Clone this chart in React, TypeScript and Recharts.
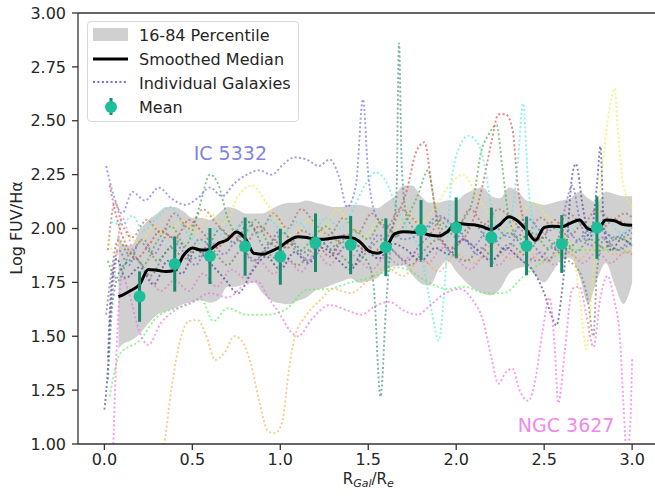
import React from 'react';
import { ComposedChart, Line, Area, Scatter, ErrorBar, XAxis, YAxis, ReferenceLine, ReferenceDot } from 'recharts';

type Pt = [number, number];

const FONT = '"DejaVu Sans", sans-serif';
const MEAN_DOT = '#1dbf9b';
const MEAN_BAR = '#178a6e';
const BAND = '#d0d0d0';

// grid for band + smoothed median
const gridX = [0.08, 0.1, 0.15, 0.2, 0.25, 0.3, 0.35, 0.4, 0.45, 0.5, 0.55, 0.6, 0.65, 0.7, 0.75, 0.8, 0.85, 0.9, 0.95, 1.0,
  1.05, 1.1, 1.15, 1.2, 1.25, 1.3, 1.35, 1.4, 1.45, 1.5, 1.55, 1.6, 1.65, 1.7, 1.75, 1.8, 1.85, 1.9, 1.95, 2.0,
  2.05, 2.1, 2.15, 2.2, 2.25, 2.3, 2.35, 2.4, 2.45, 2.5, 2.55, 2.6, 2.65, 2.7, 2.75, 2.8, 2.85, 2.9, 2.95, 3.0];
const median = [1.684, 1.69, 1.712, 1.74, 1.81, 1.806, 1.8, 1.806, 1.876, 1.91, 1.9, 1.903, 1.932, 1.948, 1.984, 1.955, 1.885, 1.88, 1.895, 1.915,
  1.945, 1.962, 1.958, 1.95, 1.95, 1.956, 1.96, 1.958, 1.94, 1.898, 1.885, 1.91, 1.975, 1.985, 1.983, 1.98, 1.97, 1.965, 1.985, 2.025,
  2.02, 2.017, 2.008, 1.995, 2.02, 2.055, 2.035, 1.993, 1.945, 2.005, 2.01, 2.008, 2.025, 2.04, 1.998, 1.99, 2.04, 2.036, 2.018, 2.015];
const p84 = [1.985, 1.93, 1.92, 1.99, 2.04, 2.07, 2.1, 2.1, 2.08, 2.05, 2.05, 2.04, 2.07, 2.1, 2.09, 2.07, 2.07, 2.07, 2.09, 2.11,
  2.12, 2.12, 2.13, 2.12, 2.11, 2.1, 2.1, 2.11, 2.11, 2.1, 2.095, 2.12, 2.15, 2.2, 2.2, 2.15, 2.12, 2.12, 2.13, 2.13,
  2.16, 2.18, 2.19, 2.15, 2.14, 2.19, 2.17, 2.13, 2.12, 2.11, 2.12, 2.13, 2.14, 2.17, 2.14, 2.12, 2.17, 2.16, 2.15, 2.15];
const p16 = [1.44, 1.46, 1.48, 1.51, 1.56, 1.6, 1.615, 1.63, 1.65, 1.66, 1.668, 1.655, 1.67, 1.73, 1.73, 1.745, 1.75, 1.7, 1.665, 1.653,
  1.648, 1.665, 1.68, 1.712, 1.725, 1.74, 1.755, 1.768, 1.748, 1.755, 1.77, 1.81, 1.826, 1.83, 1.785, 1.745, 1.735, 1.81, 1.85, 1.8,
  1.755, 1.72, 1.7, 1.69, 1.72, 1.79, 1.815, 1.823, 1.78, 1.75, 1.8, 1.86, 1.862, 1.78, 1.65, 1.76, 1.84, 1.74, 1.65, 1.75];

// binned means with 1-sigma
const meanX = [0.2, 0.4, 0.6, 0.8, 1.0, 1.2, 1.4, 1.6, 1.8, 2.0, 2.2, 2.4, 2.6, 2.8];
const meanY = [1.684, 1.835, 1.872, 1.916, 1.869, 1.934, 1.923, 1.913, 1.993, 2.004, 1.959, 1.919, 1.928, 2.004];
const meanErr = [0.117, 0.128, 0.13, 0.135, 0.13, 0.136, 0.135, 0.134, 0.139, 0.14, 0.138, 0.136, 0.134, 0.145];

const ic5332: Pt[] = [[0.01, 2.29], [0.05, 2.16], [0.1, 2.07], [0.16, 2.17], [0.23, 2.13], [0.31, 2.19], [0.38, 2.14], [0.46, 2.11], [0.53, 2.14], [0.6, 2.19], [0.67, 2.15], [0.74, 2.21], [0.81, 2.25], [0.88, 2.27], [0.95, 2.25], [1.02, 2.3], [1.08, 2.33], [1.15, 2.32], [1.22, 2.29], [1.28, 2.32], [1.33, 2.25], [1.38, 2.1], [1.43, 2.2], [1.47, 2.6], [1.5, 2.25], [1.55, 2.05], [1.62, 2.0], [1.7, 1.95], [1.8, 1.98], [1.9, 2.06], [2.0, 2.0], [2.1, 1.92], [2.2, 2.02], [2.3, 1.96], [2.4, 2.05], [2.5, 1.98], [2.6, 2.02], [2.7, 1.94], [2.8, 2.0], [2.9, 1.96], [3.0, 2.0]];
const ngc3627: Pt[] = [[0.05, 0.98], [0.07, 1.45], [0.1, 1.78], [0.14, 1.7], [0.2, 1.52], [0.25, 1.46], [0.32, 1.56], [0.4, 1.62], [0.5, 1.66], [0.6, 1.7], [0.7, 1.68], [0.8, 1.74], [0.87, 1.755], [0.93, 1.68], [1.0, 1.6], [1.06, 1.52], [1.1, 1.5], [1.18, 1.58], [1.28, 1.645], [1.38, 1.62], [1.46, 1.6], [1.54, 1.64], [1.62, 1.66], [1.7, 1.62], [1.78, 1.6], [1.86, 1.65], [1.94, 1.7], [2.02, 1.72], [2.1, 1.66], [2.15, 1.58], [2.2, 1.4], [2.24, 1.28], [2.28, 1.33], [2.32, 1.35], [2.36, 1.25], [2.41, 1.2], [2.45, 1.3], [2.49, 1.52], [2.53, 1.68], [2.56, 1.45], [2.58, 1.19], [2.62, 1.45], [2.66, 1.72], [2.7, 1.73], [2.74, 1.6], [2.78, 1.45], [2.82, 1.68], [2.86, 1.78], [2.9, 1.66], [2.93, 1.5], [2.95, 1.2], [2.97, 0.95], [2.99, 1.1], [3.0, 1.4]];
const galTeal: Pt[] = [[0.02, 1.3], [0.05, 1.68], [0.1, 1.82], [0.18, 1.86], [0.26, 1.78], [0.34, 1.88], [0.42, 1.94], [0.5, 1.86], [0.58, 1.9], [0.66, 2.0], [0.74, 1.93], [0.82, 2.03], [0.9, 1.92], [0.98, 1.86], [1.06, 1.94], [1.14, 1.89], [1.22, 1.95], [1.3, 1.9], [1.38, 1.96], [1.45, 1.88], [1.5, 1.84], [1.53, 1.74], [1.57, 1.22], [1.6, 1.62], [1.63, 1.95], [1.66, 2.15], [1.675, 2.86], [1.69, 2.3], [1.72, 2.05], [1.8, 1.98], [1.9, 2.04], [2.0, 1.96], [2.1, 2.02], [2.2, 1.93], [2.3, 1.98], [2.4, 1.91], [2.5, 1.96], [2.6, 1.89], [2.7, 1.95], [2.8, 2.02], [2.9, 1.95], [3.0, 1.98]];
const galRed: Pt[] = [[0.03, 2.2], [0.07, 2.05], [0.12, 1.93], [0.18, 1.86], [0.25, 1.92], [0.32, 1.99], [0.4, 1.95], [0.48, 2.04], [0.56, 1.98], [0.64, 1.91], [0.72, 1.97], [0.8, 1.93], [0.88, 2.01], [0.96, 1.95], [1.04, 1.91], [1.12, 1.99], [1.2, 1.95], [1.28, 1.87], [1.36, 1.97], [1.44, 1.92], [1.52, 1.89], [1.6, 1.95], [1.66, 2.05], [1.72, 2.18], [1.77, 2.35], [1.82, 2.4], [1.86, 2.2], [1.9, 2.0], [1.96, 1.91], [2.04, 1.95], [2.1, 2.05], [2.15, 2.2], [2.2, 2.4], [2.24, 2.53], [2.28, 2.53], [2.32, 2.46], [2.35, 2.2], [2.4, 2.0], [2.48, 1.95], [2.56, 2.04], [2.64, 1.96], [2.72, 2.02], [2.8, 1.98], [2.9, 2.04], [3.0, 2.0]];
const galGreen: Pt[] = [[0.02, 1.85], [0.08, 1.76], [0.15, 1.89], [0.22, 1.83], [0.3, 1.94], [0.38, 2.01], [0.46, 1.92], [0.54, 2.1], [0.6, 2.25], [0.65, 2.2], [0.7, 2.05], [0.78, 1.96], [0.86, 2.04], [0.94, 1.93], [1.02, 1.98], [1.1, 1.89], [1.18, 1.95], [1.26, 2.01], [1.34, 1.93], [1.42, 1.99], [1.5, 1.95], [1.58, 2.04], [1.66, 1.96], [1.72, 2.05], [1.78, 2.15], [1.84, 2.27], [1.88, 2.1], [1.94, 1.98], [2.02, 2.02], [2.1, 2.15], [2.14, 2.35], [2.18, 2.43], [2.23, 2.48], [2.26, 2.3], [2.3, 2.05], [2.36, 1.95], [2.44, 1.98], [2.52, 1.91], [2.6, 1.96], [2.68, 1.89], [2.76, 1.95], [2.84, 1.91], [2.92, 1.96], [3.0, 1.92]];
const galCyan: Pt[] = [[0.04, 2.03], [0.1, 2.02], [0.16, 2.06], [0.22, 1.99], [0.3, 2.05], [0.38, 2.1], [0.46, 1.99], [0.54, 1.93], [0.62, 2.0], [0.7, 1.95], [0.78, 2.02], [0.86, 1.97], [0.94, 2.04], [1.02, 1.98], [1.1, 2.03], [1.18, 1.97], [1.26, 2.05], [1.34, 2.0], [1.42, 2.1], [1.48, 2.2], [1.54, 2.26], [1.6, 2.22], [1.66, 2.1], [1.72, 2.0], [1.8, 1.88], [1.86, 1.62], [1.9, 1.48], [1.94, 1.8], [1.97, 2.2], [2.02, 2.38], [2.07, 2.43], [2.12, 2.4], [2.16, 2.3], [2.2, 2.1], [2.26, 1.98], [2.31, 2.05], [2.35, 2.3], [2.38, 2.58], [2.41, 2.2], [2.46, 1.98], [2.54, 2.02], [2.62, 1.96], [2.7, 2.02], [2.78, 1.97], [2.86, 2.03], [2.94, 1.98], [3.0, 2.02]];
const galYellow: Pt[] = [[0.02, 1.95], [0.06, 1.88], [0.12, 1.97], [0.2, 1.93], [0.28, 2.01], [0.36, 1.96], [0.44, 2.04], [0.52, 1.98], [0.6, 2.07], [0.68, 2.02], [0.76, 2.15], [0.84, 2.2], [0.92, 2.12], [1.0, 2.02], [1.08, 1.96], [1.16, 2.04], [1.24, 1.98], [1.32, 2.09], [1.4, 2.02], [1.48, 1.96], [1.56, 2.04], [1.64, 1.98], [1.72, 2.07], [1.8, 2.02], [1.88, 2.1], [1.96, 2.2], [2.04, 2.25], [2.12, 2.15], [2.2, 2.05], [2.28, 1.98], [2.36, 2.05], [2.44, 2.12], [2.52, 2.05], [2.6, 1.98], [2.66, 1.9], [2.7, 1.7], [2.74, 1.44], [2.77, 1.7], [2.8, 2.0], [2.84, 2.35], [2.87, 2.55], [2.9, 2.65], [2.92, 2.45], [2.95, 2.2], [3.0, 2.1]];
const galOrange: Pt[] = [[0.3, 0.9], [0.34, 1.0], [0.38, 1.25], [0.43, 1.48], [0.48, 1.57], [0.53, 1.575], [0.58, 1.5], [0.63, 1.39], [0.68, 1.42], [0.74, 1.5], [0.78, 1.48], [0.83, 1.38], [0.88, 1.2], [0.93, 1.06], [0.97, 1.05], [1.01, 1.1], [1.05, 1.35], [1.08, 1.49], [1.15, 1.6], [1.23, 1.67], [1.3, 1.72], [1.4, 1.7], [1.5, 1.76], [1.6, 1.82], [1.7, 1.78], [1.8, 1.86], [1.9, 1.8], [2.0, 1.88], [2.1, 1.84], [2.2, 1.92], [2.3, 1.86], [2.4, 1.9], [2.5, 1.84], [2.6, 1.9], [2.7, 1.86], [2.8, 1.92], [2.9, 1.88], [3.0, 1.9]];
const galLime: Pt[] = [[0.03, 1.22], [0.09, 1.42], [0.2, 1.48], [0.3, 1.59], [0.47, 1.645], [0.55, 1.67], [0.62, 1.57], [0.7, 1.63], [0.81, 1.6], [0.93, 1.6], [1.04, 1.63], [1.15, 1.715], [1.28, 1.72], [1.4, 1.75], [1.5, 1.77], [1.6, 1.8], [1.66, 1.82], [1.72, 1.81], [1.85, 1.746], [1.95, 1.72], [2.04, 1.73], [2.17, 1.7], [2.27, 1.7], [2.38, 1.776], [2.5, 1.85], [2.6, 1.88], [2.7, 1.9], [2.8, 1.9], [2.9, 1.9], [3.0, 1.89]];
const galNavy: Pt[] = [[0.0, 1.16], [0.02, 1.35], [0.04, 1.7], [0.07, 1.86], [0.12, 1.77], [0.2, 1.82], [0.28, 1.74], [0.36, 1.85], [0.44, 1.79], [0.52, 1.9], [0.6, 1.84], [0.68, 1.77], [0.76, 1.7], [0.84, 1.8], [0.92, 1.87], [1.0, 1.81], [1.08, 1.89], [1.16, 1.84], [1.24, 1.91], [1.32, 1.86], [1.4, 1.81], [1.48, 1.9], [1.56, 1.86], [1.64, 1.93], [1.72, 1.9], [1.8, 1.85], [1.88, 1.91], [1.96, 1.88], [2.04, 1.95], [2.12, 1.9], [2.2, 1.85], [2.28, 1.91], [2.36, 1.86], [2.44, 1.8], [2.5, 1.7], [2.54, 1.6], [2.57, 1.55], [2.6, 1.7], [2.63, 1.95], [2.66, 2.25], [2.68, 2.3], [2.72, 2.1], [2.76, 1.95], [2.8, 2.2], [2.82, 2.38], [2.84, 2.0], [2.88, 1.9], [2.94, 1.95], [3.0, 1.92]];
const galGray: Pt[] = [[0.01, 1.6], [0.04, 1.8], [0.08, 1.95], [0.14, 1.88], [0.22, 1.95], [0.3, 1.85], [0.38, 1.91], [0.46, 1.86], [0.54, 1.95], [0.62, 1.9], [0.7, 1.83], [0.78, 1.9], [0.86, 1.85], [0.94, 1.93], [1.02, 1.88], [1.1, 1.83], [1.18, 1.9], [1.26, 1.95], [1.34, 1.88], [1.42, 1.83], [1.5, 1.9], [1.58, 1.95], [1.66, 1.88], [1.74, 1.83], [1.82, 1.9], [1.9, 1.95], [1.98, 1.88], [2.06, 1.85], [2.14, 1.91], [2.22, 1.86], [2.3, 1.93], [2.38, 1.88], [2.46, 1.85], [2.54, 1.91], [2.62, 1.86], [2.7, 1.8], [2.75, 1.66], [2.78, 1.5], [2.8, 1.8], [2.84, 1.95], [2.9, 1.9], [3.0, 1.96]];
const galPurple: Pt[] = [[0.02, 1.4], [0.04, 1.75], [0.08, 1.9], [0.14, 1.83], [0.2, 1.94], [0.28, 1.88], [0.36, 1.97], [0.44, 1.9], [0.52, 1.83], [0.6, 1.94], [0.68, 1.88], [0.76, 1.95], [0.84, 1.85], [0.92, 1.9], [1.0, 1.99], [1.08, 1.92], [1.16, 1.85], [1.24, 1.93], [1.32, 1.88], [1.4, 1.95], [1.48, 1.9], [1.56, 1.97], [1.64, 1.9], [1.72, 1.85], [1.8, 1.93], [1.88, 1.97], [1.96, 1.9], [2.04, 1.95], [2.12, 1.88], [2.2, 1.95], [2.28, 1.9], [2.36, 1.97], [2.44, 1.92], [2.52, 1.85], [2.58, 1.95], [2.62, 2.1], [2.66, 2.2], [2.7, 2.05], [2.76, 1.92], [2.84, 1.96], [2.92, 1.9], [3.0, 1.94]];
const galPink: Pt[] = [[0.03, 1.55], [0.06, 1.8], [0.1, 2.05], [0.16, 1.9], [0.24, 1.8], [0.32, 1.71], [0.4, 1.76], [0.48, 1.71], [0.56, 1.79], [0.64, 1.73], [0.72, 1.81], [0.8, 1.77], [0.88, 1.85], [0.96, 1.79], [1.04, 1.85], [1.12, 1.8], [1.2, 1.89], [1.28, 1.83], [1.36, 1.91], [1.44, 1.86], [1.52, 1.81], [1.6, 1.87], [1.68, 1.83], [1.76, 1.89], [1.84, 1.84], [1.92, 1.91], [2.0, 1.86], [2.08, 1.81], [2.16, 1.87], [2.24, 1.83], [2.32, 1.89], [2.4, 1.84], [2.48, 1.89], [2.56, 1.83], [2.64, 1.89], [2.72, 1.84], [2.8, 1.89], [2.88, 1.84], [2.96, 1.89], [3.0, 1.88]];
const galBrown: Pt[] = [[0.02, 1.9], [0.06, 2.12], [0.1, 2.02], [0.16, 1.96], [0.24, 2.04], [0.32, 1.98], [0.4, 2.07], [0.48, 2.0], [0.56, 2.09], [0.64, 2.02], [0.72, 1.96], [0.8, 2.04], [0.88, 1.98], [0.96, 2.07], [1.04, 2.0], [1.12, 2.09], [1.2, 2.02], [1.28, 1.97], [1.36, 2.05], [1.44, 1.98], [1.52, 2.07], [1.6, 2.0], [1.68, 2.09], [1.76, 2.04], [1.84, 1.97], [1.92, 2.05], [2.0, 2.0], [2.08, 2.09], [2.16, 2.02], [2.24, 2.09], [2.32, 2.04], [2.4, 1.98], [2.48, 2.05], [2.56, 2.0], [2.64, 2.07], [2.72, 2.02], [2.8, 2.09], [2.88, 2.04], [2.96, 2.07], [3.0, 2.05]];

const galaxies: { name: string; color: string; pts: Pt[] }[] = [
  { name: 'lime', color: '#5ef05e', pts: galLime },
  { name: 'orange', color: '#f2b456', pts: galOrange },
  { name: 'pink', color: '#e07cc0', pts: galPink },
  { name: 'brown', color: '#b5705a', pts: galBrown },
  { name: 'gray', color: '#7a7a6e', pts: galGray },
  { name: 'purple', color: '#7d62c9', pts: galPurple },
  { name: 'navy', color: '#43438e', pts: galNavy },
  { name: 'yellow', color: '#ecec4e', pts: galYellow },
  { name: 'green', color: '#4ca64c', pts: galGreen },
  { name: 'red', color: '#d64c4c', pts: galRed },
  { name: 'cyan', color: '#58e8e8', pts: galCyan },
  { name: 'teal', color: '#3d8f80', pts: galTeal },
  { name: 'NGC 3627', color: '#ee6cee', pts: ngc3627 },
  { name: 'IC 5332', color: '#6f6fdd', pts: ic5332 },
];

const xTicks = [0, 0.5, 1, 1.5, 2, 2.5, 3];
const yTicks = [1, 1.25, 1.5, 1.75, 2, 2.25, 2.5, 2.75, 3];

const bandData = gridX.map((x, i) => ({ x, band: [p16[i], p84[i]], med: median[i] }));
const meanData = meanX.map((x, i) => ({ x, y: meanY[i], err: meanErr[i] }));

const tickStyle = { fontFamily: FONT, fontSize: 16, fill: '#262626' };

const XLabel = (props: any) => {
  const vb = props.viewBox;
  const cx = vb.x + vb.width / 2;
  return (
    <text x={cx} y={vb.y + 40} textAnchor="middle" fontFamily={FONT} fill="#262626" fontSize={15}>
      R<tspan fontSize={11} fontStyle="italic" dy={3}>Gal</tspan>
      <tspan dy={-3}>/R</tspan>
      <tspan fontSize={11} fontStyle="italic" dy={3}>e</tspan>
    </text>
  );
};

const YLabel = () => (
  <text x={21.5} y={228} transform="rotate(-90, 21.5, 228)" textAnchor="middle" fontFamily={FONT} fill="#262626" fontSize={16}>
    Log FUV/Hα
  </text>
);

const note = (value: string, color: string) => (props: any) => {
  const vb = props.viewBox;
  return (
    <text x={vb.x + vb.width / 2} y={vb.y + vb.height / 2} textAnchor="middle" fontFamily={FONT} fontSize={19} fill={color}>
      {value}
    </text>
  );
};

const LegendBox = () => (
  <div style={{ position: 'absolute', left: 87, top: 21, width: 210, height: 99, border: '1px solid #d8d8d8', borderRadius: 4, background: 'rgba(255,255,255,0.8)' }}>
    <svg width={210} height={99} style={{ display: 'block' }}>
      <rect x={5} y={6} width={35} height={13} fill={BAND} />
      <line x1={5} x2={40} y1={37} y2={37} stroke="#000" strokeWidth={3} />
      <line x1={5} x2={40} y1={60} y2={60} stroke="#6f6fdd" strokeWidth={2} strokeDasharray="2 2.4" />
      <line x1={23} x2={23} y1={76} y2={93} stroke={MEAN_BAR} strokeWidth={3} />
      <circle cx={23} cy={85} r={6} fill={MEAN_DOT} />
      {['16-84 Percentile', 'Smoothed Median', 'Individual Galaxies', 'Mean'].map((t, i) => (
        <text key={t} x={51} y={19 + i * 24} fontFamily={FONT} fontSize={16} fill="#262626">{t}</text>
      ))}
    </svg>
  </div>
);

export default function App() {
  return (
    <div style={{ position: 'fixed', left: 0, top: 0, width: 655, height: 498, overflow: 'hidden', background: '#fff' }}>
      <ComposedChart width={662} height={498} data={bandData} margin={{ top: 13, right: 3.5, left: 0, bottom: 24 }}>
        <XAxis
          dataKey="x"
          type="number"
          domain={[-0.15, 3.15]}
          ticks={xTicks}
          allowDataOverflow
          tickFormatter={(v: number) => v.toFixed(1)}
          tick={tickStyle}
          height={30}
          tickSize={6}
          tickMargin={4}
          stroke="#333"
          strokeWidth={1.3}
          label={<XLabel />}
        />
        <YAxis
          type="number"
          domain={[1, 3]}
          ticks={yTicks}
          allowDataOverflow
          tickFormatter={(v: number) => v.toFixed(2)}
          tick={tickStyle}
          width={78}
          tickSize={6}
          tickMargin={6}
          stroke="#333"
          strokeWidth={1.3}
          label={<YLabel />}
        />
        <ReferenceLine y={3} stroke="#333" strokeWidth={1.3} />
        <Area dataKey="band" type="monotone" stroke="none" fill={BAND} fillOpacity={1} isAnimationActive={false} />
        {galaxies.map((g) => (
          <Line
            key={g.name}
            data={g.pts.map(([x, y]) => ({ x, y }))}
            dataKey="y"
            type="monotone"
            stroke={g.color}
            strokeOpacity={0.68}
            strokeWidth={1.9}
            strokeDasharray="2 2.4"
            dot={false}
            activeDot={false}
            isAnimationActive={false}
          />
        ))}
        <Line dataKey="med" type="monotone" stroke="#000" strokeWidth={3} dot={false} activeDot={false} isAnimationActive={false} />
        <Scatter
          data={meanData}
          dataKey="y"
          isAnimationActive={false}
          shape={(p: any) => <circle cx={p.cx} cy={p.cy} r={6} fill={MEAN_DOT} />}
        >
          <ErrorBar dataKey="err" direction="y" width={0} stroke={MEAN_BAR} strokeWidth={3} isAnimationActive={false} />
        </Scatter>
        <ReferenceDot x={0.716} y={2.32} r={0} label={note('IC 5332', '#8282e6')} />
        <ReferenceDot x={2.625} y={1.055} r={0} label={note('NGC 3627', '#f088ee')} />
      </ComposedChart>
      <LegendBox />
    </div>
  );
}
